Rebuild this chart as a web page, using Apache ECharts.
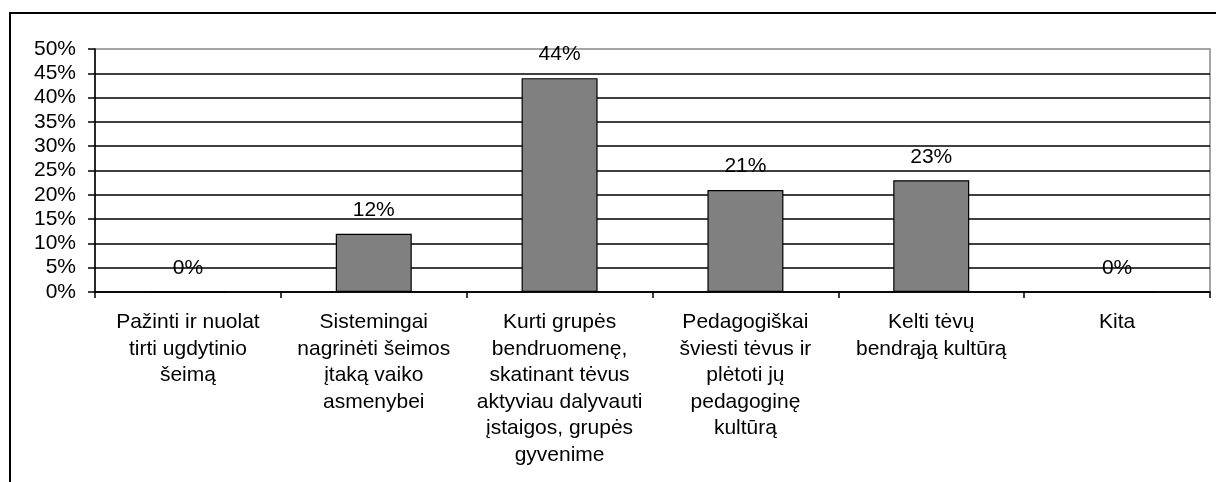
<!DOCTYPE html>
<html>
<head>
    <meta charset="utf-8">
    <title>Tėvų švietimas</title>
    <script src="https://cdn.jsdelivr.net/npm/echarts@6/dist/echarts.min.js"></script>
    <style type="text/css">
        html, body {
            margin: 0;
            padding: 0;
            background: #fff;
        }
        #main {
            width: 1216px;
            height: 482px;
        }
    </style>
</head>
<body>
<div id="main"></div>
<script type="text/javascript">
    // kategorijos (su eilučių laužymais kaip paveiksle)
    var categories = [
        'Pažinti ir nuolat\ntirti ugdytinio\nšeimą',
        'Sistemingai\nnagrinėti šeimos\nįtaką vaiko\nasmenybei',
        'Kurti grupės\nbendruomenę,\nskatinant tėvus\naktyviau dalyvauti\nįstaigos, grupės\ngyvenime',
        'Pedagogiškai\nšviesti tėvus ir\nplėtoti jų\npedagoginę\nkultūrą',
        'Kelti tėvų\nbendrąją kultūrą',
        'Kita'
    ];
    var values = [0, 12, 44, 21, 23, 0];
    var yTicks = [0, 5, 10, 15, 20, 25, 30, 35, 40, 45, 50];

    var font = 'Liberation Sans, Arial, sans-serif';

    var chart = echarts.init(document.getElementById('main'));
    chart.setOption({
        animation: false,
        graphic: [
            {   // išorinis rėmelis
                type: 'rect',
                shape: {x: 10, y: 13, width: 1230, height: 520},
                style: {fill: 'none', stroke: '#000', lineWidth: 2},
                silent: true
            }
        ],
        grid: {
            left: 95,
            right: 6,
            top: 49,
            bottom: 190,
            show: true,
            borderColor: '#888',
            borderWidth: 1.5
        },
        xAxis: {
            type: 'category',
            data: categories,
            axisLine: {lineStyle: {color: '#000', width: 1.5}},
            axisTick: {show: true, length: 6, lineStyle: {color: '#000', width: 1.5}},
            axisLabel: {
                interval: 0,
                color: '#000',
                fontFamily: font,
                fontSize: 21,
                lineHeight: 26.5,
                margin: 17
            },
            splitLine: {show: false}
        },
        yAxis: {
            type: 'value',
            min: yTicks[0],
            max: yTicks[yTicks.length - 1],
            interval: 5,
            axisLine: {show: true, lineStyle: {color: '#000', width: 1.5}},
            axisTick: {show: true, length: 7, lineStyle: {color: '#000', width: 1.5}},
            axisLabel: {
                color: '#000',
                fontFamily: font,
                fontSize: 21,
                margin: 19,
                formatter: '{value}%'
            },
            splitLine: {
                show: true,
                showMaxLine: false,
                lineStyle: {color: '#000', width: 1.5}
            }
        },
        series: [
            {
                type: 'bar',
                data: values,
                barWidth: 76,
                itemStyle: {
                    color: '#808080',
                    borderColor: '#000',
                    borderWidth: 1.2
                },
                label: {
                    show: true,
                    position: 'top',
                    distance: 13,
                    color: '#000',
                    fontFamily: font,
                    fontSize: 21,
                    formatter: '{c}%'
                }
            }
        ]
    });
</script>
</body>
</html>
